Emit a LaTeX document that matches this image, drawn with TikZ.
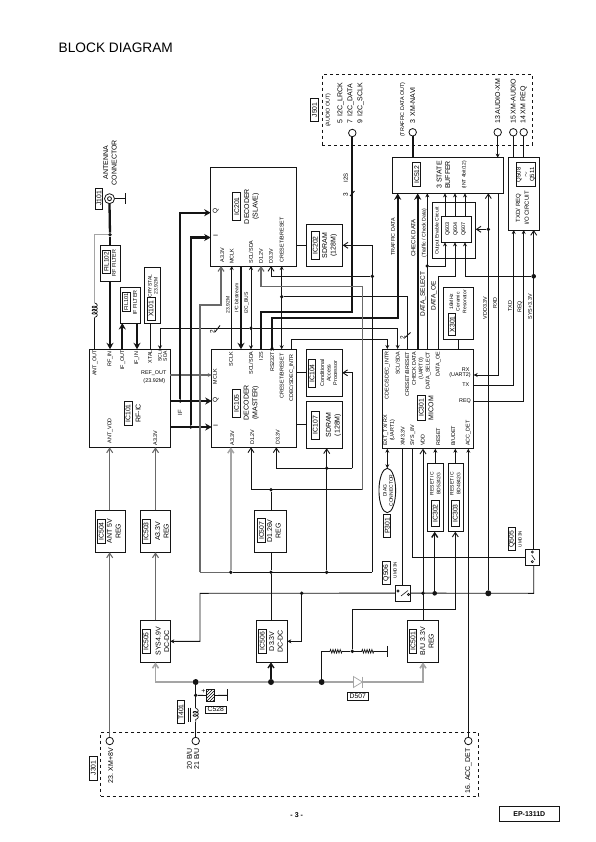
\documentclass[tikz,border=0pt]{standalone}
\usepackage{fontspec}
\setmainfont{Liberation Sans}
\usetikzlibrary{arrows.meta, shapes.geometric, decorations.pathmorphing, patterns}
\definecolor{mydark}{RGB}{20,20,20}
\definecolor{mygray}{RGB}{105,105,105}
\definecolor{mylight}{RGB}{165,165,165}
\newcommand{\fs}[1]{\fontsize{#1}{#1pt}\selectfont}
\tikzset{
  block/.style={rectangle, draw=mydark, line width=0.9pt, inner sep=0pt, outer sep=0pt},
  tag/.style={rectangle, draw=mydark, line width=0.9pt, inner sep=0pt, rotate=90,
    minimum width=24pt, minimum height=8pt, font=\fs{6.8}, align=center},
  flattag/.style={rectangle, draw=mydark, line width=0.9pt, inner sep=0pt,
    minimum width=21pt, minimum height=8pt, font=\fs{6.8}},
  bigtxt/.style={rotate=90, align=center, inner sep=0pt, font=\fontsize{7}{8.6}\selectfont},
  smalltxt/.style={rotate=90, align=center, inner sep=0pt, font=\fontsize{5.4}{6.6}\selectfont},
  pinlab/.style={rotate=90, inner sep=0pt, align=center, font=\fontsize{5.4}{6.8}\selectfont},
  flatlab/.style={inner sep=0pt, font=\fs{5.4}},
  jack/.style={circle, draw=mydark, line width=0.8pt, fill=white, minimum size=7.5pt, inner sep=0pt, outer sep=0pt},
  jdot/.style={circle, fill=mydark, minimum size=3.8pt, inner sep=0pt},
  bigdot/.style={circle, fill=mydark, minimum size=6pt, inner sep=0pt},
  dashbox/.style={rectangle, draw=mydark, line width=0.9pt, dashed, inner sep=0pt, outer sep=0pt},
  wire/.style={line width=0.9pt, color=mydark},
  arrow/.style={-{Stealth[length=4pt,width=4pt]}, line width=0.9pt, color=mydark},
  bothway/.style={{Stealth[length=4pt,width=4pt]}-{Stealth[length=4pt,width=4pt]}, line width=0.9pt, color=mydark},
  pwrarrow/.style={-{Straight Barb[length=4.5pt,width=6pt]}, line width=0.9pt, color=mydark},
  graywire/.style={line width=1.1pt, color=mygray},
  grayarrow/.style={-{Straight Barb[length=4.5pt,width=6pt]}, line width=1.1pt, color=mygray},
  lightarrow/.style={-{Straight Barb[length=4.5pt,width=6pt]}, line width=1.5pt, color=mylight},
  bus/.style={line width=1.6pt, color=mylight},
  busarrow/.style={-{Straight Barb[length=4.5pt,width=6pt]}, line width=1.6pt, color=mylight},
  heavy/.style={line width=2.3pt, color=mydark},
  heavyarrow/.style={-{Stealth[length=6.5pt,width=7pt]}, line width=2.3pt, color=mydark},
  coilwire/.style={decorate, decoration={coil, aspect=0.6, segment length=3.2pt, amplitude=2.6pt}, line width=0.7pt, color=mydark},
  reswire/.style={decorate, decoration={zigzag, segment length=2.4pt, amplitude=1.8pt}, line width=0.7pt, color=mydark},
  swline/.style={line width=0.6pt, color=mydark}
}
\begin{document}
\begin{tikzpicture}[x=1pt,y=-1pt]
  \useasboundingbox (0,0) rectangle (595,842);
  \node[inner sep=0pt, anchor=west, font=\fs{13.7}] (title) at (58.5,47.5) {BLOCK DIAGRAM};

  % Blocks
  \node[block, minimum width=19.3pt, minimum height=36pt] (fil102) at (110.35,263) {};
  \node[block, minimum width=19.6pt, minimum height=36pt] (fil101) at (130.5,305) {};
  \node[block, minimum width=15.6pt, minimum height=56pt] (x101) at (152.5,295) {};
  \node[block, minimum width=81pt, minimum height=98pt] (ic101) at (129.8,398.3) {};
  \node[block, minimum width=29.6pt, minimum height=42pt] (ic504) at (110.5,531.3) {};
  \node[block, minimum width=29.6pt, minimum height=42pt] (ic503) at (155.5,531.3) {};
  \node[block, minimum width=29.6pt, minimum height=42pt] (ic505) at (155.5,641.3) {};
  \node[block, minimum width=30.6pt, minimum height=42pt] (ic506) at (272,641.3) {};
  \node[block, minimum width=32pt, minimum height=42pt] (ic507) at (270.7,531.3) {};
  \node[block, minimum width=30.6pt, minimum height=42pt] (ic501) at (423,641.3) {};
  \node[block, minimum width=85pt, minimum height=98pt] (ic105) at (254.2,398.3) {};
  \node[block, minimum width=86pt, minimum height=98.7pt] (ic201) at (253.7,216.65) {};
  \node[block, minimum width=36.4pt, minimum height=42pt] (ic202) at (324.5,245.3) {};
  \node[block, minimum width=36pt, minimum height=47pt] (ic104) at (324.3,372.8) {};
  \node[block, minimum width=36pt, minimum height=47pt] (ic107) at (324.3,424.8) {};
  \node[block, minimum width=91pt, minimum height=99.7pt] (ic301) at (428.2,398.85) {};
  \node[block, minimum width=111pt, minimum height=35.6pt] (ic512) at (447.8,175.5) {};
  \node[block, minimum width=31.4pt, minimum height=72.7pt] (iocirc) at (524,193.65) {};
  \node[block, minimum width=43pt, minimum height=56.4pt] (oecirc) at (454.2,230.5) {};
  \node[block, minimum width=30.7pt, minimum height=26.3pt] (qbuf) at (456.35,229.15) {};
  \node[block, minimum width=30.4pt, minimum height=52pt] (x301) at (458.5,313.3) {};
  \node[block, minimum width=16pt, minimum height=68.4pt] (ic302) at (435.3,497.5) {};
  \node[block, minimum width=14.6pt, minimum height=68.4pt] (ic303) at (456,497.5) {};
  \node[block, minimum width=15pt, minimum height=16.3pt] (q506) at (403.2,593.15) {};
  \node[block, minimum width=14pt, minimum height=16.3pt] (q505) at (532.7,557.15) {};
  \node[block, ellipse, minimum width=16.7pt, minimum height=44.4pt] (p301) at (387.3,490.5) {};
  \node[dashbox, minimum width=210pt, minimum height=70.7pt] (j501) at (427.3,109.65) {};
  \node[dashbox, minimum width=378pt, minimum height=63.7pt] (j301) at (289.7,764.15) {};

  % Jacks
  \node[jack, minimum size=10pt] (j101) at (109.5,198.7) {};
  \node[jack, minimum size=4pt] (j101in) at (109.5,198.7) {};
  \node[jack] (jI2s) at (352.3,133) {};
  \node[jack] (jNavi) at (412.7,132.3) {};
  \node[jack] (jAudio) at (497.7,132.3) {};
  \node[jack] (jXmAudio) at (513.3,132.3) {};
  \node[jack] (jXmReq) at (523.7,132.3) {};
  \node[jack] (jXm8v) at (109.7,741) {};
  \node[jack] (jBu) at (195.7,741) {};
  \node[jack] (jAcc) at (468.3,741) {};

  % Junctions
  \node[jdot] (dAnt) at (110,234.7) {};
  \node[jdot] (dQ) at (180.3,401) {};
  \node[jdot] (dI) at (190.7,427) {};
  \node[jdot] (dSda) at (251,328.3) {};
  \node[jdot] (dRst) at (281.7,296.7) {};
  \node[jdot] (dD33t) at (372.3,276.3) {};
  \node[jdot] (dD12) at (271,489.7) {};
  \node[jdot] (dD33) at (326.7,468.3) {};
  \node[jdot] (dA33) at (230.8,572.3) {};
  \node[jdot] (dD33b) at (271,572.3) {};
  \node[jdot] (dD33c) at (326.7,572.3) {};
  \node[jdot] (dSel) at (427.3,266) {};
  \node[bigdot, minimum size=4.6pt] (dSys) at (533.7,276.3) {};
  \node[jdot] (dVdd) at (488.3,229.3) {};
  \node[jdot] (dEn) at (301.7,593.3) {};
  \node[jdot] (dVddb) at (423,593.3) {};
  \node[bigdot, minimum size=4.6pt] (dRstb) at (434.7,593.3) {};
  \node[bigdot] (dVddc) at (488.3,593.3) {};
  \node[bigdot] (dBat) at (195.7,682) {};
  \node[bigdot] (dDcd) at (271,682) {};
  \node[bigdot] (dBup) at (321.7,682) {};
  \node[jdot] (dCap) at (195.7,695.3) {};
  \node[jdot] (dRes) at (352.3,651.3) {};

  % Routing points
  \coordinate (cCoilA) at (94.7,303);
  \coordinate (cCoilB) at (94.7,318);
  \coordinate (cGnd) at (125,198.7);
  \coordinate (cQ) at (180.3,212.7);
  \coordinate (cI) at (190.7,237.5);
  \coordinate (cI2s) at (261,311.7);
  \coordinate (cTraf) at (272,317.7);
  \coordinate (cCdec) at (291.7,339.7);
  \coordinate (cA33) at (200,572.3);
  \coordinate (cAv) at (221,305);
  \coordinate (cD33) at (372.3,572.3);
  \coordinate (cD12r) at (362.3,489.7);
  \coordinate (cD12l) at (251,489.7);
  \coordinate (cD12t) at (261,286.3);
  \coordinate (cD33r) at (352.3,468.3);
  \coordinate (cD33l) at (276.3,468.3);
  \coordinate (cOe) at (455,276.3);
  \coordinate (cEn) at (200,593.3);
  \coordinate (cBus) at (533.7,593.3);
  \coordinate (cDet) at (455.3,609.3);
  \coordinate (cR1a) at (330,651.3);
  \coordinate (cR1b) at (342.3,651.3);
  \coordinate (cR2a) at (361.7,651.3);
  \coordinate (cR2b) at (374,651.3);
  \coordinate (cRgnd) at (387.3,651.3);
  \coordinate (cCoilC) at (195.7,708.3);
  \coordinate (cCoilD) at (195.7,721.7);
  \coordinate (cCgnd) at (227.3,695.3);

  % RF side
  \draw[wire] (j101.east) -- (cGnd);
  \draw[wire] ([yshift=5.5pt]cGnd) -- ([yshift=-5.5pt]cGnd);
  \draw[heavy] (j101.south) -- (dAnt);
  \draw[heavy] (dAnt) -- (fil102.north -| dAnt);
  \draw[heavyarrow] (fil102.south -| dAnt) -- (ic101.north -| dAnt);
  \draw[wire, mylight] (dAnt) -| (cCoilA);
  \draw[coilwire] (cCoilA) -- (cCoilB);
  \draw[wire] (cCoilB) -- (ic101.north -| cCoilB);
  \draw[heavyarrow] (ic101.north -| 122.3,0) -- (fil101.south -| 122.3,0);
  \draw[heavyarrow] (fil101.south -| 137,0) -- (ic101.north -| 137,0);
  \draw[wire] (x101.south -| 150.3,0) -- (ic101.north -| 150.3,0);
  \draw[arrow] (dSda) -| (ic101.north -| 160,0);
  \draw[arrow] (dSda) -| (ic301.north -| 397.7,0);
  \draw[graywire, -{Stealth[length=4pt,width=4pt]}] (ic101.east |- 0,375) -- (ic105.west |- 0,375);
  \draw[heavyarrow] (ic101.east |- dQ) -- (ic105.west |- dQ);
  \draw[heavyarrow] (ic101.east |- dI) -- (ic105.west |- dI);
  \draw[heavyarrow] (dQ) -- (cQ) -- (ic201.west |- cQ);
  \draw[heavyarrow] (dI) -- (cI) -- (ic201.west |- cI);

  % Decoders
  \draw[wire] (ic201.east |- ic202.west) -- (ic202.west);
  \draw[wire] (ic105.east |- ic107.west) -- (ic107.west);
  \draw[wire] (ic105.east |- ic104.west) -- (ic104.west);
  \draw[arrow] (ic105.north -| 231.7,0) -- (ic201.south -| 231.7,0);
  \draw[heavyarrow] (ic201.south -| 241,0) -- (ic105.north -| 241,0);
  \draw[bothway] (ic201.south -| dSda) -- (ic105.north -| dSda);
  \draw[bothway] (ic201.south -| dRst) -- (ic105.north -| dRst);
  \draw[wire] (dRst) -| (ic301.north -| 407.3,0);
  \draw[heavy] (jI2s.south) |- (cI2s) -- (ic105.north -| cI2s);
  \draw[heavyarrow] (ic105.north -| cTraf) -- (cTraf) -| (ic512.south -| 397.7,0);
  \draw[arrow] (ic105.north -| cCdec) -- (cCdec) -| (ic301.north -| 387.3,0);
  \draw[heavyarrow] (ic301.north -| 417.7,0) -- (ic512.south -| 417.7,0);

  % Supply rails
  \draw[graywire] (cA33) -- (dA33);
  \draw[wire] (dA33) -- (cD33);
  \draw[grayarrow] (cA33) |- (cAv) -- (ic201.south -| cAv);
  \draw[lightarrow] (dA33) -- (ic105.south -| dA33);
  \draw[pwrarrow] (cD33) |- (ic202.east);
  \draw[pwrarrow] (dD33t) -| (ic201.south -| 271,0);
  \draw[wire] (ic507.south -| dD33b) -- (dD33b);
  \draw[wire] (ic506.north -| dD33b) -- (dD33b);
  \draw[wire] (ic507.north -| dD12) -- (dD12);
  \draw[pwrarrow] (cD12r) -- (cD12l) -- (ic105.south -| cD12l);
  \draw[grayarrow] (cD12r) |- (cD12t) -- (ic201.south -| cD12t);
  \draw[pwrarrow] (cD33r) -- (cD33l) -- (ic105.south -| cD33l);
  \draw[pwrarrow] (cD33r) |- (ic104.east);
  \draw[pwrarrow] (dD33c) -- (ic107.south -| dD33c);
  \draw[grayarrow] (ic504.north -| 109.7,0) -- (ic101.south -| 109.7,0);
  \draw[grayarrow] (ic503.north) -- (ic101.south -| ic503.north);
  \draw[grayarrow] (ic505.north) -- (ic503.south);
  \draw[grayarrow] (jXm8v.north) -- (ic504.south -| jXm8v);

  % Buffer and interface
  \draw[heavy] (jNavi.south) -- (ic512.north -| jNavi);
  \draw[arrow] (jAudio.south) -- (ic512.north -| jAudio);
  \draw[wire] (jXmAudio.south) -- (iocirc.north -| jXmAudio);
  \draw[wire] (jXmReq.south) -- (iocirc.north -| jXmReq);
  \foreach \xp in {445,455,465}
    \draw[arrow] (qbuf.north -| \xp,0) -- (ic512.south -| \xp,0);
  \draw[arrow] (ic301.north -| dSel) -- (ic512.south -| dSel);
  \draw[arrow] (dSel) -| (qbuf.south -| 445,0);
  \draw[arrow] (ic301.north -| 438.3,0) |- (cOe) -- (qbuf.south -| cOe);
  \draw[arrow] (dSys) -| (qbuf.south -| 465,0);
  \draw[pwrarrow] (dVdd) -- (oecirc.east |- dVdd);
  \draw[pwrarrow] (dVddc) -- (ic512.south -| dVddc);
  \draw[arrow] (ic512.south -| 498.3,0) |- (ic301.east |- 0,375);
  \draw[arrow] (ic301.east |- 0,385.3) -| (iocirc.south -| 513.7,0);
  \draw[arrow] (ic301.east |- 0,401.3) -| (iocirc.south -| 523.7,0);
  \draw[pwrarrow] (q505.north -| dSys) -- (iocirc.south -| dSys);
  \draw[wire] (x301.south -| 458.3,0) -- (ic301.north -| 458.3,0);

  % Micom bottom side
  \draw[bothway] (ic301.south -| p301.north) -- (p301.north);
  \draw[wire] (ic301.south -| 402.3,0) -- (q506.north -| 402.3,0);
  \draw[wire] (ic301.south -| 412.7,0) |- (q505.west);
  \draw[pwrarrow] (ic501.north) -- (ic301.south -| ic501.north);
  \draw[arrow] (ic302.north) -- (ic301.south -| ic302.north);
  \draw[arrow] (ic303.north -| cDet) -- (ic301.south -| cDet);
  \draw[pwrarrow, line width=1.4pt] (dRstb) -- (ic302.south -| dRstb);
  \draw[pwrarrow] (dRes) |- (cDet) -- (ic303.south -| cDet);
  \draw[arrow] (jAcc.north) -- (ic301.south -| jAcc);

  % Switch line
  \draw[arrow] (q506.west) -- (cEn) |- (ic505.east);
  \draw[arrow] (dEn) |- (ic506.east);
  \draw[wire] (q506.east) -- (cBus) -- (q505.south -| cBus);
  \draw[swline] (401,596) -- (408,590.5) (398,591) circle (1.1pt) (408.5,594.5) circle (1.1pt);
  \draw[swline] (531.7,555) -- (535,560) (532.3,552) circle (1.1pt) (532.3,561.7) circle (1.1pt);

  % Battery side
  \node[draw=mylight, fill=white, isosceles triangle, isosceles triangle stretches, line width=0.7pt,
    minimum width=11pt, minimum height=9pt, inner sep=0pt, outer sep=0pt] (d507) at (356.5,682) {};
  \draw[bus] (dBat) -- (dDcd) -- (dBup) -- (d507.west);
  \draw[busarrow] (d507.apex) -| (ic501.south);
  \draw[wire, mylight] ([yshift=5.5pt]d507.apex) -- ([yshift=-5.5pt]d507.apex);
  \draw[busarrow] (dBat) -| (ic505.south);
  \draw[pwrarrow, line width=1.4pt] (dDcd) -- (ic506.south -| dDcd);
  \draw[heavy, line width=1.2pt] (dBup) -- (dBup |- dRes) -- (cR1a);
  \draw[reswire] (cR1a) -- (cR1b);
  \draw[wire] (cR1b) -- (dRes) -- (cR2a);
  \draw[reswire] (cR2a) -- (cR2b);
  \draw[wire] (cR2b) -- (cRgnd);
  \draw[wire] ([yshift=5.5pt]cRgnd) -- ([yshift=-5.5pt]cRgnd);
  \draw[wire] (dBat) -- (cCoilC);
  \draw[coilwire] (cCoilC) -- (cCoilD);
  \draw[wire] (cCoilD) -- (jBu.north);
  \draw[wire] (188.3,707.5) -- (188.3,722) (190.8,707.5) -- (190.8,722);
  \node[block, minimum width=7.6pt, minimum height=12.4pt, pattern=north east lines] (capC) at (210.5,695.5) {};
  \draw[wire] (dCap) -- (capC.west);
  \draw[wire] (capC.east) -- (cCgnd);
  \draw[wire] ([yshift=6pt]cCgnd) -- ([yshift=-6pt]cCgnd);
  \node[inner sep=0pt, font=\fs{7}] (capPlus) at (203.3,691.3) {+};

  % Crossing marks
  \draw[wire] (215,332) -- (220,325.5);
  \draw[wire] (405,337.5) -- (410.5,332.5);
  \draw[wire] (350,196) -- (354.5,191);
  \node[smalltxt, font=\fs{6.5}] (mark2a) at (212.3,332) {2};
  \node[smalltxt, font=\fs{6.5}] (mark2b) at (402.7,337.7) {2};
  \node[smalltxt, font=\fs{6.5}] (mark3) at (345.7,195) {3};
  \node[smalltxt, font=\fs{6}] (tI2s) at (345.7,178) {I2S};

  % Reference tags
  \node[tag, minimum width=21pt, minimum height=7.4pt] (tJ101) at (99,198.5) {J101};
  \node[tag, minimum width=22.3pt, minimum height=7.3pt, font=\fs{6.4}] (tFil102) at (106.35,262) {FIL102};
  \node[tag, minimum width=18.6pt, minimum height=7.7pt, font=\fs{5.6}] (tFil101) at (126.15,302) {FIL101};
  \node[tag, minimum width=22.3pt] (tX101) at (151.15,309) {X101};
  \node[tag] (tIc101) at (128.15,413.3) {IC101};
  \node[tag] (tIc504) at (101.3,531.3) {IC504};
  \node[tag] (tIc503) at (146.15,531.3) {IC503};
  \node[tag] (tIc505) at (146.15,641.3) {IC505};
  \node[tag] (tIc506) at (262.3,641) {IC506};
  \node[tag] (tIc507) at (261.5,530.8) {IC507};
  \node[tag, minimum height=7.4pt] (tIc501) at (413,641) {IC501};
  \node[tag, minimum width=28pt, minimum height=8.4pt] (tIc105) at (236.5,403.3) {IC105};
  \node[tag, minimum width=28.4pt] (tIc201) at (236.7,206.5) {IC201};
  \node[tag, minimum width=28pt] (tIc202) at (315.3,245.3) {IC202};
  \node[tag, minimum width=28pt, minimum height=7.4pt] (tIc104) at (312,373.3) {IC104};
  \node[tag, minimum width=28pt] (tIc107) at (315.3,425.2) {IC107};
  \node[tag, minimum width=25.7pt] (tIc301) at (421.3,407.8) {IC301};
  \node[tag] (tIc512) at (416.7,174.7) {IC512};
  \node[tag, minimum height=19.7pt, font=\fontsize{6}{6.8}\selectfont] (tQ508) at (525.85,174.7) {Q508\\$\sim$\\Q511};
  \node[tag, minimum width=22pt, minimum height=7pt] (tX301) at (452.2,324.3) {X301};
  \node[tag, minimum width=25.3pt, minimum height=7.3pt] (tIc302) at (435.3,513.3) {IC302};
  \node[tag, minimum width=25.3pt, minimum height=7.3pt] (tIc303) at (455.3,513.3) {IC303};
  \node[tag, minimum width=23pt, minimum height=7pt] (tP301) at (387.2,525.8) {P301};
  \node[tag, minimum width=23pt] (tQ506) at (386.3,572.8) {Q506};
  \node[tag, minimum width=23.4pt, minimum height=7.4pt] (tQ505) at (512,539) {Q505};
  \node[tag, minimum width=22.6pt, minimum height=6.6pt] (tT401) at (181,712) {T401};
  \node[tag, minimum width=23pt] (tJ501) at (314.5,110) {J501};
  \node[tag] (tJ301) at (93.3,768) {J301};
  \node[flattag] (tD507) at (357.8,696.3) {D507};
  \node[flattag, minimum width=20.3pt, minimum height=7.3pt] (tC528) at (215.8,709.6) {C528};

  % Block names
  \node[bigtxt] (nAnt) at (110,162.7) {ANTENNA\\CONNECTOR};
  \node[smalltxt] (nFil102) at (114,263) {RF FILTER};
  \node[smalltxt] (nFil101) at (135,302.5) {IF FILTER};
  \node[smalltxt, font=\fontsize{5}{6}\selectfont] (nX101) at (153,286) {CRYSTAL\\23.92M};
  \node[bigtxt] (nRfIc) at (138.3,413.3) {RF-IC};
  \node[bigtxt] (nIc504) at (113.85,531.3) {ANT 5V\\REG};
  \node[bigtxt] (nIc503) at (162,531.3) {A3.3V\\REG};
  \node[bigtxt] (nIc505) at (162.5,641.3) {SYS4.9V\\DC-DC};
  \node[bigtxt] (nIc506) at (276,641.3) {D3.3V\\DC-DC};
  \node[bigtxt] (nIc507) at (274,531) {D1.26V\\REG};
  \node[bigtxt] (nIc501) at (426.8,641.3) {B/U 3.3V\\REG};
  \node[bigtxt] (nIc105) at (251.3,402.7) {DECODER\\(MASTER)};
  \node[bigtxt] (nIc201) at (251.7,206.5) {DECODER\\(SLAVE)};
  \node[bigtxt] (nIc202) at (329.7,245.5) {SDRAM\\(128M)};
  \node[bigtxt] (nIc107) at (333.5,425) {SDRAM\\(128M)};
  \node[smalltxt] (nIc104) at (328.7,373) {Conditional\\Access\\Processor};
  \node[bigtxt] (nIc301) at (431,408) {MICOM};
  \node[bigtxt] (nIc512) at (443.5,175) {3 STATE\\BUFFER};
  \node[smalltxt, font=\fs{5}] (nBit) at (464.3,175) {(INT 4bit/12)};
  \node[bigtxt, font=\fontsize{6}{8.6}\selectfont] (nIoc) at (522.3,208) {TXD/ REQ\\I/O CIRCUIT};
  \node[smalltxt, font=\fs{5}] (nOe) at (437.3,231) {Output Enable Circuit};
  \node[smalltxt, font=\fontsize{5.4}{8}\selectfont] (nQbuf) at (455.7,229) {Q603\\Q604\\Q607};
  \node[smalltxt, font=\fontsize{5}{6.6}\selectfont] (nX301) at (458,301.7) {16MHz\\Ceramic\\Resonator};
  \node[smalltxt, font=\fontsize{5}{6.6}\selectfont] (nIc302) at (435.3,483.7) {RESET IC\\BD5242G};
  \node[smalltxt, font=\fontsize{5}{6.6}\selectfont] (nIc303) at (455.3,483.7) {RESET IC\\BD4842G};
  \node[smalltxt, font=\fontsize{5}{6.2}\selectfont] (nP301) at (388,490.5) {DIAG\\CONNECTOR};
  \node[smalltxt, font=\fs{4.5}] (nQ506) at (395,570) {UMD3N};
  \node[smalltxt, font=\fs{4.5}] (nQ505) at (520,539) {UMD3N};

  % Signal names
  \node[smalltxt, font=\fs{6}] (sIf) at (180,412.7) {IF};
  \node[smalltxt, font=\fs{5}] (s2392) at (228,305) {23.92M};
  \node[smalltxt, font=\fs{5}] (sBit) at (236.7,298) {I²C bitstream};
  \node[smalltxt, font=\fs{5}] (sBus) at (246.7,303) {I2C\_BUS};
  \node[smalltxt] (sTraf) at (393,237) {TRAFFIC DATA};
  \node[smalltxt, font=\fs{6}] (sChk) at (413.3,238) {CHECK DATA};
  \node[smalltxt, font=\fs{5.2}] (sChk2) at (424.3,233) {(Traffic / Check Data)};
  \node[smalltxt, font=\fs{6.5}] (sSel) at (423.3,294) {DATA\_SELECT};
  \node[smalltxt, font=\fs{6.5}] (sOe) at (434,296) {DATA\_OE};
  \node[smalltxt] (sVdd) at (485,308) {VDD3.3V};
  \node[smalltxt] (sRxd) at (495,303) {RXD};
  \node[smalltxt] (sTxd) at (510,306) {TXD};
  \node[smalltxt] (sReq) at (520,306.7) {REQ};
  \node[smalltxt] (sSys) at (530,306.7) {SYS+3.3V};

  % IC101 pins
  \node[pinlab] (pAntOut) at (95,363) {ANT\_OUT};
  \node[pinlab] (pRfIn) at (110,359) {RF\_IN};
  \node[pinlab] (pIfOut) at (122.7,360) {IF\_OUT};
  \node[pinlab] (pIfIn) at (136.7,358.3) {IF\_IN};
  \node[pinlab] (pXtal) at (150,356.7) {XTAL};
  \node[pinlab, font=\fontsize{5}{5.4}\selectfont] (pSda101) at (162.5,356) {SCL/\\SDA};
  \node[flatlab] (pRef) at (153.7,373) {REF\_OUT};
  \node[flatlab] (pRef2) at (154.3,381) {(23.92M)};
  \node[pinlab] (pAntVdd) at (110,430.7) {ANT\_VDD};
  \node[pinlab] (pA101) at (155.3,438) {A3.3V};

  % IC105 pins
  \node[pinlab] (pMclk) at (215,376.7) {MCLK};
  \node[pinlab, font=\fs{6.5}] (pQ105) at (215.7,400) {Q};
  \node[pinlab, font=\fs{6.5}] (pI105) at (215.7,426) {I};
  \node[pinlab] (pA105) at (232.3,438) {A3.3V};
  \node[pinlab] (pD105) at (252.3,437) {D1.2V};
  \node[pinlab] (pE105) at (277.7,437) {D3.3V};
  \node[pinlab] (pSclk) at (231,359) {SCLK};
  \node[pinlab] (pSda105) at (251,363) {SCL/SDA};
  \node[pinlab] (pI2s105) at (261,356) {I2S};
  \node[pinlab] (pRs) at (272.3,360) {RS232TS};
  \node[pinlab] (pRst105) at (281.7,376) {CRESET/BRESET};
  \node[pinlab] (pInt105) at (291.7,378) {CDEC/SDEC\_INTR};

  % IC201 pins
  \node[pinlab, font=\fs{6.5}] (pQ201) at (215.7,211) {Q};
  \node[pinlab, font=\fs{6.5}] (pI201) at (215.7,236) {I};
  \node[pinlab] (pA201) at (222.3,255) {A3.3V};
  \node[pinlab] (pM201) at (231.7,256) {MCLK};
  \node[pinlab] (pS201) at (251,252) {SCL/SDA};
  \node[pinlab] (pD201) at (261,256) {D1.2V};
  \node[pinlab] (pE201) at (271,256) {D3.3V};
  \node[pinlab] (pR201) at (281.7,240) {CRESET/BRESET};

  % IC301 pins
  \node[pinlab, anchor=east] (pInt301) at (387.3,351.5) {CDEC/SDEC\_INTR};
  \node[pinlab, anchor=east] (pSda301) at (397.7,351.5) {SCL/SDA};
  \node[pinlab, anchor=east] (pRst301) at (407.3,351.5) {CRESET/BRESET};
  \node[pinlab, anchor=east] (pChk301) at (418,351.5) {CHECK DATA\\(UART0)};
  \node[pinlab, anchor=east] (pSel301) at (428.3,351.5) {DATA\_SELECT};
  \node[pinlab, anchor=east] (pOe301) at (438.3,351.5) {DATA\_OE};
  \node[flatlab] (pRx) at (465.7,369.3) {RX};
  \node[flatlab] (pRx2) at (460,375) {(UART2)};
  \node[flatlab] (pTx) at (465.7,385) {TX};
  \node[flatlab] (pReq) at (465,401) {REQ};
  \node[pinlab, anchor=west] (pExt) at (389,446) {EXT\_TX/ RX\\(UART1)};
  \node[pinlab, anchor=west] (pXm33) at (402.7,446) {XM3.3V};
  \node[pinlab, anchor=west] (pSys8) at (412.7,446) {SYS\_8V};
  \node[pinlab, anchor=west] (pVdd) at (422.7,446) {VDD};
  \node[pinlab, anchor=west] (pReset) at (438.3,446) {RESET};
  \node[pinlab, anchor=west] (pBu) at (453.3,446) {B/UDET};
  \node[pinlab, anchor=west] (pAccd) at (468.3,446) {ACC\_DET};

  % Connector pin names
  \node[smalltxt, anchor=west] (c501a) at (328.3,127) {(AUDIO OUT)};
  \node[bigtxt, anchor=west] (c501b) at (340.7,124) {5 \ I2C\_LRCK};
  \node[bigtxt, anchor=west] (c501c) at (350.7,124) {7 \ I2C\_DATA};
  \node[bigtxt, anchor=west] (c501d) at (360.7,124) {9 \ I2C\_SCLK};
  \node[smalltxt, anchor=west] (c501e) at (402.7,137) {(TRAFFIC DATA OUT)};
  \node[bigtxt, anchor=west] (c501f) at (412.7,124) {3 \ XM-NAVI};
  \node[bigtxt, anchor=west] (c501g) at (497.7,124) {13 AUDIO-XM};
  \node[bigtxt, anchor=west] (c501h) at (513.3,124) {15 XM-AUDIO};
  \node[bigtxt, anchor=west] (c501i) at (523.7,124) {14 XM REQ};
  \node[bigtxt, anchor=east] (c301a) at (110.7,748) {23. XM+8V};
  \node[bigtxt, anchor=east] (c301b) at (189.3,748) {20 B/U};
  \node[bigtxt, anchor=east] (c301c) at (196.5,748) {21 B/U};
  \node[bigtxt, anchor=east] (c301d) at (468.3,748) {16. ACC\_DET};

  % Footer
  \node[inner sep=0pt, font=\bfseries\fs{7}] (pageNo) at (296.7,815) {- 3 -};
  \node[block, minimum width=60pt, minimum height=15.4pt, font=\bfseries\fs{7}] (model) at (529.3,814) {EP-1311D};
\end{tikzpicture}
\end{document}
